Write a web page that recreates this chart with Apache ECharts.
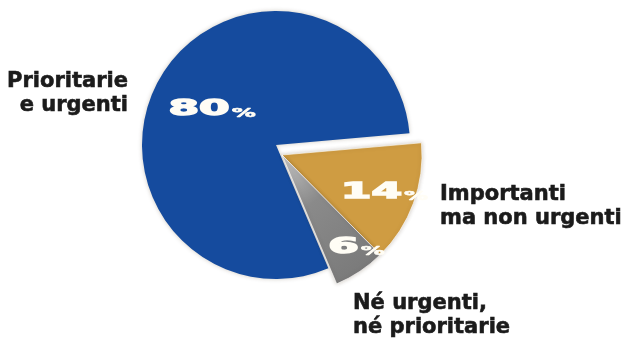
<!DOCTYPE html>
<html>
<head>
<meta charset="utf-8">
<script src="https://cdn.jsdelivr.net/npm/echarts@6/dist/echarts.min.js"></script>
<style>
  html, body { margin: 0; padding: 0; background: #ffffff; }
  #chart { width: 623px; height: 342px; }
</style>
</head>
<body>
<div id="chart"></div>
<script>
// Shares of activities, in the clockwise order they are drawn
const categories = ['Importanti\nma non urgenti', 'Né urgenti,\nné prioritarie', 'Prioritarie\ne urgenti'];
const shares = [14, 6, 80];
// Which slices sit in the pulled-out wedge
const pulledOut = [true, true, false];

const START_ANGLE = 5;
const mainPie = { center: [276, 145], radius: 134 };
const wedgePie = { center: [282, 155], radius: 140 };
// Radial placement of the value labels (fraction of radius) and a small angular nudge (deg)
const valueLabelDepth = [0.78, 0.85, 0.545];
const valueLabelTurn = [0, 5, 2];
// Anchors of the category names
const nameAnchors = [
  { x: 440, y: 207, align: 'left' },
  { x: 353, y: 316, align: 'left' },
  { x: 128, y: 94, align: 'right' }
];

const sliceColors = [
  '#cf9c42',
  new echarts.graphic.LinearGradient(0, 0, 1, 1, [
    { offset: 0, color: '#c4c4c4' },
    { offset: 0.35, color: '#8a8a8a' },
    { offset: 1, color: '#767676' }
  ]),
  '#154b9e'
];

const chart = echarts.init(document.getElementById('chart'), null, { renderer: 'canvas' });

const total = shares.reduce((a, b) => a + b, 0);
const midAngles = [];
{
  let cum = 0;
  shares.forEach(v => {
    midAngles.push(START_ANGLE - (cum + v / 2) / total * 360);
    cum += v;
  });
}

function pieData(showPulled) {
  return shares.map((v, i) => {
    const visible = pulledOut[i] === showPulled;
    return {
      value: v,
      name: categories[i],
      itemStyle: visible
        ? {
            color: sliceColors[i],
            borderColor: pulledOut[i] ? 'rgba(255,255,255,0.6)' : sliceColors[i],
            borderWidth: pulledOut[i] ? 1 : 0,
            shadowBlur: 4,
            shadowColor: 'rgba(60,40,0,0.25)'
          }
        : { color: 'rgba(0,0,0,0)', borderWidth: 0 },
      emphasis: { disabled: true }
    };
  });
}

const valueTexts = shares.map((v, i) => {
  const pie = pulledOut[i] ? wedgePie : mainPie;
  const a = (midAngles[i] + valueLabelTurn[i]) * Math.PI / 180;
  const d = pie.radius * valueLabelDepth[i];
  return {
    type: 'text',
    x: pie.center[0] + d * Math.cos(a),
    y: pie.center[1] - d * Math.sin(a),
    scaleX: 2.0,
    z: 100,
    style: {
      text: '{n|' + v + '}{p|%}',
      textAlign: 'center',
      textVerticalAlign: 'middle',
      fill: '#fffdf5',
      rich: {
        n: { fontFamily: 'DejaVu Sans', fontWeight: 'bold', fontSize: 22, fill: '#fffdf5',
             stroke: '#fffdf5', lineWidth: 1.4 },
        p: { fontFamily: 'DejaVu Sans', fontWeight: 'bold', fontSize: 12, fill: '#fffdf5',
             stroke: '#fffdf5', lineWidth: 0.6,
             verticalAlign: 'bottom', padding: [0, 0, 1, 1] }
      }
    }
  };
});

const nameTexts = categories.map((c, i) => ({
  type: 'text',
  x: nameAnchors[i].x,
  y: nameAnchors[i].y,
  z: 100,
  style: {
    text: c,
    textAlign: nameAnchors[i].align,
    textVerticalAlign: 'middle',
    fontFamily: 'DejaVu Sans',
    fontWeight: 'bold',
    fontSize: 21,
    lineHeight: 24,
    fill: '#1b1b1b',
    stroke: '#1b1b1b',
    lineWidth: 0.6
  }
}));

chart.setOption({
  animation: false,
  backgroundColor: '#ffffff',
  series: [
    {
      type: 'pie',
      center: mainPie.center,
      radius: mainPie.radius,
      startAngle: START_ANGLE,
      clockwise: true,
      silent: true,
      label: { show: false },
      labelLine: { show: false },
      data: pieData(false)
    },
    {
      type: 'pie',
      center: wedgePie.center,
      radius: wedgePie.radius,
      startAngle: START_ANGLE,
      clockwise: true,
      silent: true,
      label: { show: false },
      labelLine: { show: false },
      data: pieData(true)
    }
  ],
  graphic: valueTexts.concat(nameTexts)
});
</script>
</body>
</html>
